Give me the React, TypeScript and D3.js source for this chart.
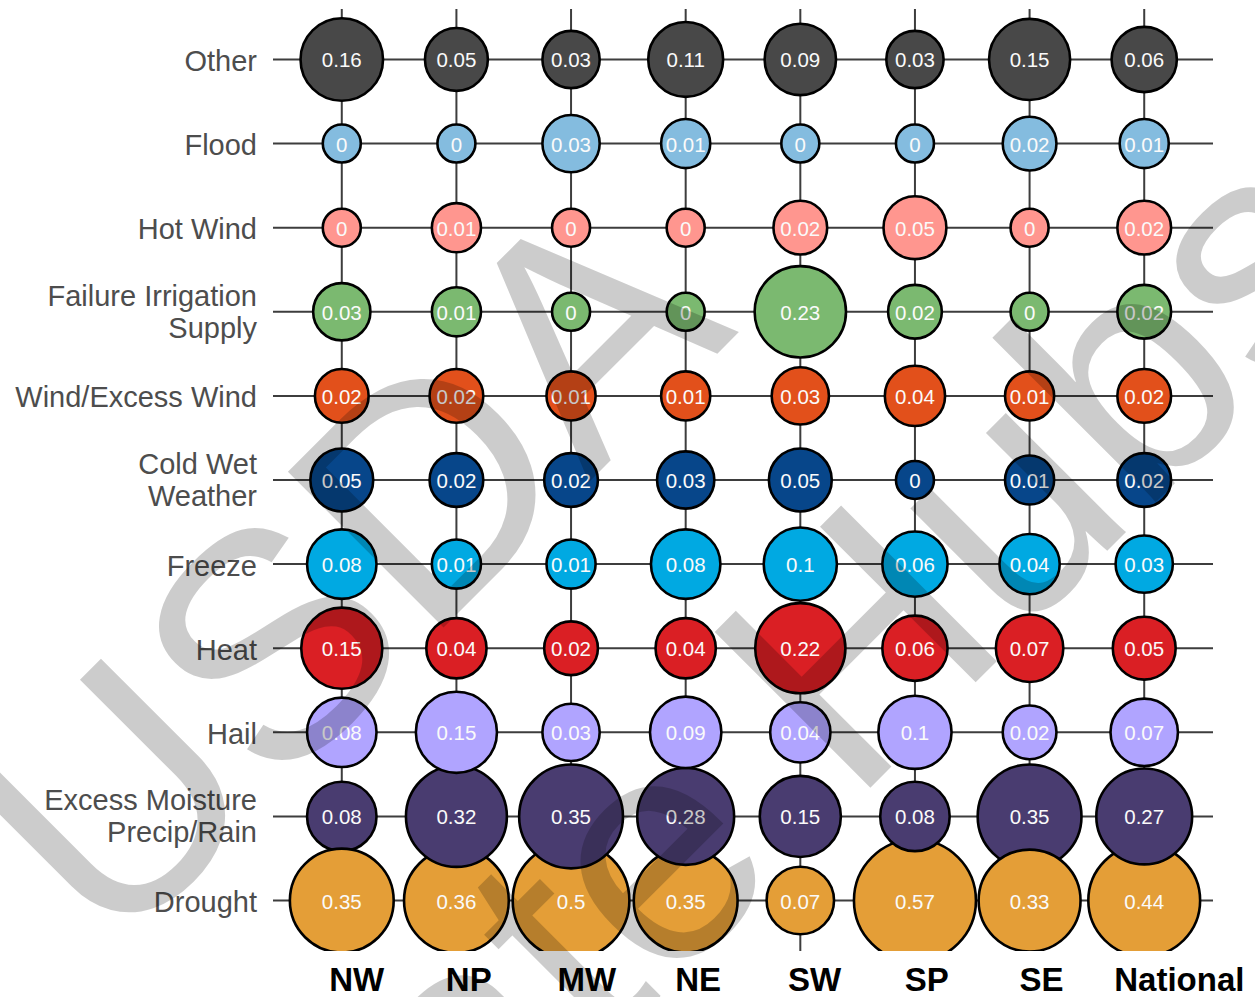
import { useEffect, useRef } from 'react'
import * as d3 from 'd3'

// regions (columns) and loss causes (rows), top to bottom
const regions = ['NW', 'NP', 'MW', 'NE', 'SW', 'SP', 'SE', 'National']
const causes = [
  'Other',
  'Flood',
  'Hot Wind',
  'Failure Irrigation\nSupply',
  'Wind/Excess Wind',
  'Cold Wet\nWeather',
  'Freeze',
  'Heat',
  'Hail',
  'Excess Moisture\nPrecip/Rain',
  'Drought',
]
const causeColors = [
  '#484848', '#84bcdf', '#ff968f', '#7bb970', '#e2501b', '#07468a',
  '#00a9e2', '#da1f24', '#b0a4ff', '#493c70', '#e49e37',
]

// share of losses, one array per cause, in region order
const other = [0.16, 0.05, 0.03, 0.11, 0.09, 0.03, 0.15, 0.06]
const flood = [0, 0, 0.03, 0.01, 0, 0, 0.02, 0.01]
const hotWind = [0, 0.01, 0, 0, 0.02, 0.05, 0, 0.02]
const irrigation = [0.03, 0.01, 0, 0, 0.23, 0.02, 0, 0.02]
const wind = [0.02, 0.02, 0.01, 0.01, 0.03, 0.04, 0.01, 0.02]
const coldWet = [0.05, 0.02, 0.02, 0.03, 0.05, 0, 0.01, 0.02]
const freeze = [0.08, 0.01, 0.01, 0.08, 0.1, 0.06, 0.04, 0.03]
const heat = [0.15, 0.04, 0.02, 0.04, 0.22, 0.06, 0.07, 0.05]
const hail = [0.08, 0.15, 0.03, 0.09, 0.04, 0.1, 0.02, 0.07]
const excessMoisture = [0.08, 0.32, 0.35, 0.28, 0.15, 0.08, 0.35, 0.27]
const drought = [0.35, 0.36, 0.5, 0.35, 0.07, 0.57, 0.33, 0.44]
const shares = [other, flood, hotWind, irrigation, wind, coldWet, freeze, heat, hail, excessMoisture, drought]

// columns where the drought bubble sits over the excess moisture one
const droughtOnTop = ['NW', 'SE']

const watermarkLines = ['USDA', 'Climate Hubs']

const W = 1255
const H = 997
const panel = { left: 273, right: 1213, top: 9, bottom: 951 }

export default function App() {
  const svgRef = useRef<SVGSVGElement>(null)

  useEffect(() => {
    if (!svgRef.current) return
    const svg = d3.select(svgRef.current)
    svg.selectAll('*').remove()

    const x = d3.scalePoint<string>().domain(regions).range([panel.left, panel.right]).padding(0.6)
    const y = d3.scalePoint<string>().domain(causes).range([panel.top, panel.bottom]).padding(0.6)
    const r = d3.scaleSqrt().domain([0, d3.max(shares.flat())!]).range([19, 61])

    svg.append('clipPath').attr('id', 'panel-clip')
      .append('rect')
      .attr('x', panel.left).attr('y', panel.top)
      .attr('width', panel.right - panel.left).attr('height', panel.bottom - panel.top)

    const g = svg.append('g').attr('clip-path', 'url(#panel-clip)')

    // grid
    g.selectAll('line.h').data(causes).join('line')
      .attr('x1', panel.left).attr('x2', panel.right)
      .attr('y1', (d) => y(d)!).attr('y2', (d) => y(d)!)
      .attr('stroke', '#3d3d3d').attr('stroke-width', 2)
    g.selectAll('line.v').data(regions).join('line')
      .attr('x1', (d) => x(d)!).attr('x2', (d) => x(d)!)
      .attr('y1', panel.top).attr('y2', panel.bottom)
      .attr('stroke', '#3d3d3d').attr('stroke-width', 2)

    const cells = causes.flatMap((cause, i) =>
      regions.map((region, j) => {
        let order = causes.length - 1 - i
        if (i === causes.length - 1 && droughtOnTop.includes(region)) order = 1.5
        return { cause, region, value: shares[i][j], color: causeColors[i], order }
      })
    ).sort((a, b) => a.order - b.order)

    g.selectAll('circle').data(cells).join('circle')
      .attr('cx', (d) => x(d.region)!)
      .attr('cy', (d) => y(d.cause)!)
      .attr('r', (d) => r(d.value))
      .attr('fill', (d) => d.color)
      .attr('stroke', '#000')
      .attr('stroke-width', 2.6)

    g.selectAll('text.val').data(cells).join('text')
      .attr('x', (d) => x(d.region)!)
      .attr('y', (d) => y(d.cause)! + 8)
      .attr('text-anchor', 'middle')
      .attr('font-family', '"Liberation Sans", Arial, sans-serif')
      .attr('font-size', 20.5)
      .attr('fill', '#fafafa')
      .text((d) => String(d.value))

    // row labels
    const rowLab = svg.append('g')
      .attr('font-family', '"Liberation Sans", Arial, sans-serif')
      .attr('font-size', 29)
      .attr('fill', '#4d4d4d')
      .attr('text-anchor', 'end')
    causes.forEach((cause) => {
      const lines = cause.split('\n')
      const t = rowLab.append('text')
      lines.forEach((line, k) => {
        const base = lines.length === 1 ? 11.5 : -6 + k * 32
        t.append('tspan').attr('x', 257).attr('y', y(cause)! + base).text(line)
      })
    })

    // column labels
    const colLab = svg.append('g')
      .attr('font-family', '"Liberation Sans", Arial, sans-serif')
      .attr('font-size', 33)
      .attr('font-weight', 'bold')
      .attr('fill', '#000')
    regions.forEach((region) => {
      const t = colLab.append('text').attr('y', 991).text(region)
      const w = (t.node() as SVGTextElement).getComputedTextLength()
      t.attr('x', x(region)! - 0.23 * w)
    })

    // watermark
    const wm = svg.append('g')
      .attr('font-family', '"Liberation Sans", Arial, sans-serif')
      .attr('font-size', 320)
      .attr('fill', '#000')
      .attr('fill-opacity', 0.2)
      .attr('text-anchor', 'middle')
    const anchors = [[425, 646], [701, 957]]
    watermarkLines.forEach((line, k) => {
      wm.append('text')
        .attr('transform', `translate(${anchors[k][0]},${anchors[k][1]}) rotate(-45)`)
        .text(line)
    })
  }, [])

  return (
    <svg
      ref={svgRef}
      width={W}
      height={H}
      style={{ position: 'absolute', left: 0, top: 0, background: '#fff' }}
    />
  )
}
